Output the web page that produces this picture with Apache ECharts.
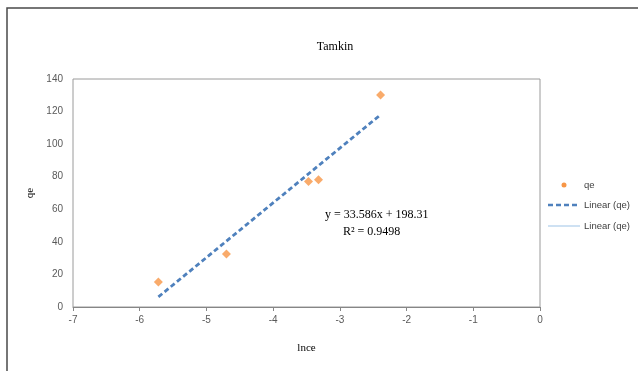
<!DOCTYPE html>
<html>
<head>
<meta charset="utf-8">
<script src="https://cdn.jsdelivr.net/npm/echarts@6/dist/echarts.min.js"></script>
<style>
  html, body { margin: 0; padding: 0; background: #fff; }
  #chart { width: 638px; height: 371px; }
</style>
</head>
<body>
<div id="chart"></div>
<script>
// Measured ln(Ce) values and adsorbed amounts qe
const lnce = [-5.72, -4.70, -3.47, -3.32, -2.39];
const qe = [15.4, 32.5, 77.1, 78.1, 130.1];

// Fitted linear trend
const slope = 33.586;
const intercept = 198.31;
const rSquared = 0.9498;

const xTicks = [-7, -6, -5, -4, -3, -2, -1, 0];
const yTicks = [0, 20, 40, 60, 80, 100, 120, 140];
const legendNames = ['qe', 'Linear (qe)', 'Linear (qe)'];

const xMin = Math.min(...lnce);
const xMax = Math.max(...lnce);
const trend = [[xMin, slope * xMin + intercept], [xMax, slope * xMax + intercept]];

const chart = echarts.init(document.getElementById('chart'));
const labelFont = { color: '#595959', fontSize: 10, fontFamily: 'Liberation Sans, Arial, sans-serif' };
const legendFont = '9.5px "Liberation Sans", Arial, sans-serif';

// Legend block drawn beside the plot
const legendX = 548, legendY = [185, 205, 226];
const legendGraphics = [
  { type: 'circle', shape: { cx: legendX + 16, cy: legendY[0], r: 2.5 }, style: { fill: '#f79646' } },
  { type: 'line', shape: { x1: legendX, y1: legendY[1], x2: legendX + 32, y2: legendY[1] }, style: { stroke: '#4f81bd', lineWidth: 2.5, lineDash: [5, 3] } },
  { type: 'line', shape: { x1: legendX, y1: legendY[2], x2: legendX + 32, y2: legendY[2] }, style: { stroke: '#9dc3e6', lineWidth: 1 } }
].concat(legendNames.map((n, i) => ({
  type: 'text', x: legendX + 36, y: legendY[i],
  style: { text: n, font: legendFont, fill: '#404040', verticalAlign: 'middle' }
})));

chart.setOption({
  animation: false,
  backgroundColor: '#fff',
  title: {
    text: 'Tamkin',
    left: 330, top: 36, textAlign: 'center',
    textStyle: { fontFamily: 'Liberation Serif, Times New Roman, serif', fontSize: 12, fontWeight: 'normal', color: '#000' }
  },
  grid: { left: 73, right: 98, top: 79, bottom: 64, show: true, borderColor: '#9a9a9a', borderWidth: 1 },
  xAxis: {
    type: 'value', min: xTicks[0], max: xTicks[xTicks.length - 1], interval: 1,
    name: 'lnce', nameLocation: 'middle', nameGap: 36,
    nameTextStyle: { fontFamily: 'Liberation Serif, Times New Roman, serif', fontSize: 11, color: '#000' },
    axisLine: { lineStyle: { color: '#868686' } },
    axisTick: { show: true, length: 4, lineStyle: { color: '#868686' } },
    axisLabel: Object.assign({ margin: 8 }, labelFont),
    splitLine: { show: false }
  },
  yAxis: {
    type: 'value', min: yTicks[0], max: yTicks[yTicks.length - 1], interval: 20,
    name: 'qe', nameLocation: 'middle', nameGap: 37, nameRotate: 90,
    nameTextStyle: { fontFamily: 'Liberation Serif, Times New Roman, serif', fontSize: 11, color: '#000' },
    axisLine: { show: false },
    axisTick: { show: false },
    axisLabel: Object.assign({ margin: 10 }, labelFont),
    splitLine: { show: false }
  },
  series: [
    {
      name: 'Linear (qe) light', type: 'line', data: [], symbol: 'none',
      lineStyle: { color: '#9dc3e6', width: 1 }
    },
    {
      name: 'Linear (qe)', type: 'line', data: trend, symbol: 'none', z: 3,
      lineStyle: { color: '#4f81bd', width: 2.8, type: [5, 3] }
    },
    {
      name: 'qe', type: 'scatter', symbol: 'diamond', symbolSize: 9, z: 4,
      itemStyle: { color: '#f79646' },
      data: lnce.map((x, i) => [x, qe[i]])
    }
  ],
  graphic: [
    { type: 'rect', shape: { x: 7, y: 8, width: 700, height: 400 }, style: { fill: 'none', stroke: '#4a4a4a', lineWidth: 1.5 }, silent: true },
    { type: 'text', left: 325, top: 209, style: { text: 'y = 33.586x + 198.31', font: '12px "Liberation Serif", serif', fill: '#000' } },
    { type: 'text', left: 343, top: 226, style: { text: 'R² = ' + rSquared, font: '12px "Liberation Serif", serif', fill: '#000' } }
  ].concat(legendGraphics)
});
</script>
</body>
</html>
